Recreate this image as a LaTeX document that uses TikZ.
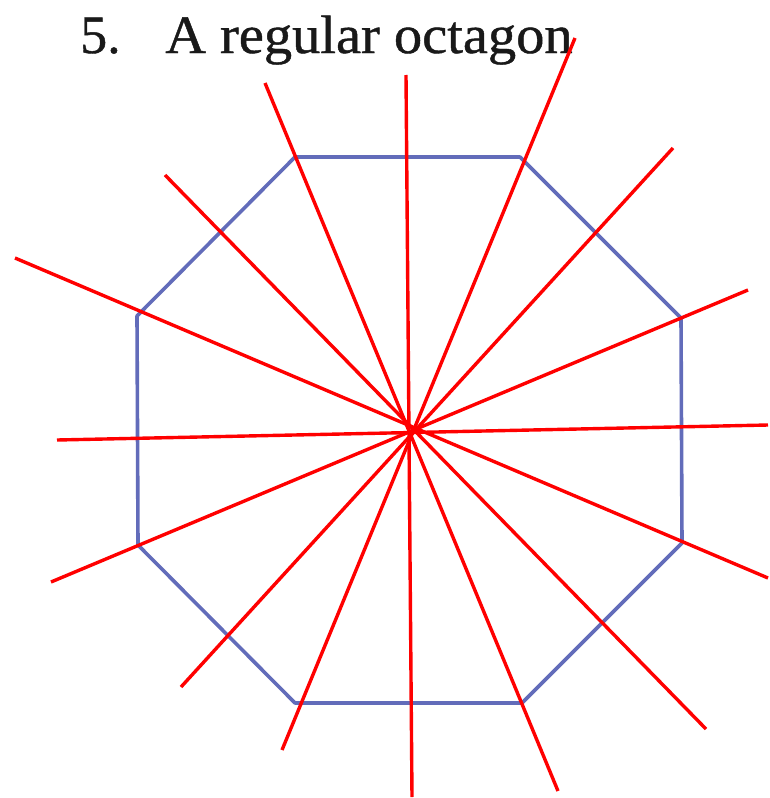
\documentclass[tikz,border=0pt]{standalone}
\usepackage{fontspec}
\setmainfont{Liberation Serif}
\newfontfamily\titlefont[FakeBold=0.8]{Liberation Serif}
\definecolor{octblue}{RGB}{98,108,186}
\definecolor{titlegray}{RGB}{25,25,25}
\begin{document}
\begin{tikzpicture}[x=1pt,y=-1pt,
  oct/.style={draw=octblue, line width=3.6pt, line join=round},
  ray/.style={draw=red, line width=3.4pt},
  titletext/.style={anchor=base west, inner sep=0pt, text=titlegray, font=\titlefont\fontsize{54}{60}\selectfont}]
\useasboundingbox (0,0) rectangle (769,798);
% title
\node[titletext] (num) at (80,53) {5.};
\node[titletext] (ttl) at (165,53) {\scalebox{1.045}[1]{A regular octagon}};
% octagon vertices
\coordinate (v1) at (295,157);
\coordinate (v2) at (520,157);
\coordinate (v3) at (681,318);
\coordinate (v4) at (682,543);
\coordinate (v5) at (522,703);
\coordinate (v6) at (295,703);
\coordinate (v7) at (138,545);
\coordinate (v8) at (137,316);
\draw[oct] (v1) -- (v2) -- (v3) -- (v4) -- (v5) -- (v6) -- (v7) -- (v8) -- cycle;
% ray end points
\coordinate (a1) at (406,75);   \coordinate (b1) at (412,797);
\coordinate (a2) at (265,83);   \coordinate (b2) at (558,791);
\coordinate (a3) at (575,38);   \coordinate (b3) at (282,750);
\coordinate (a4) at (165,175);  \coordinate (b4) at (706,729);
\coordinate (a5) at (673,148);  \coordinate (b5) at (181,687);
\coordinate (a6) at (15,258);   \coordinate (b6) at (768,578);
\coordinate (a7) at (748,290);  \coordinate (b7) at (51,582);
\coordinate (a8) at (57,440);   \coordinate (b8) at (768,425);
\foreach \i in {1,...,8} {\draw[ray] (a\i) -- (b\i);}
\end{tikzpicture}
\end{document}
